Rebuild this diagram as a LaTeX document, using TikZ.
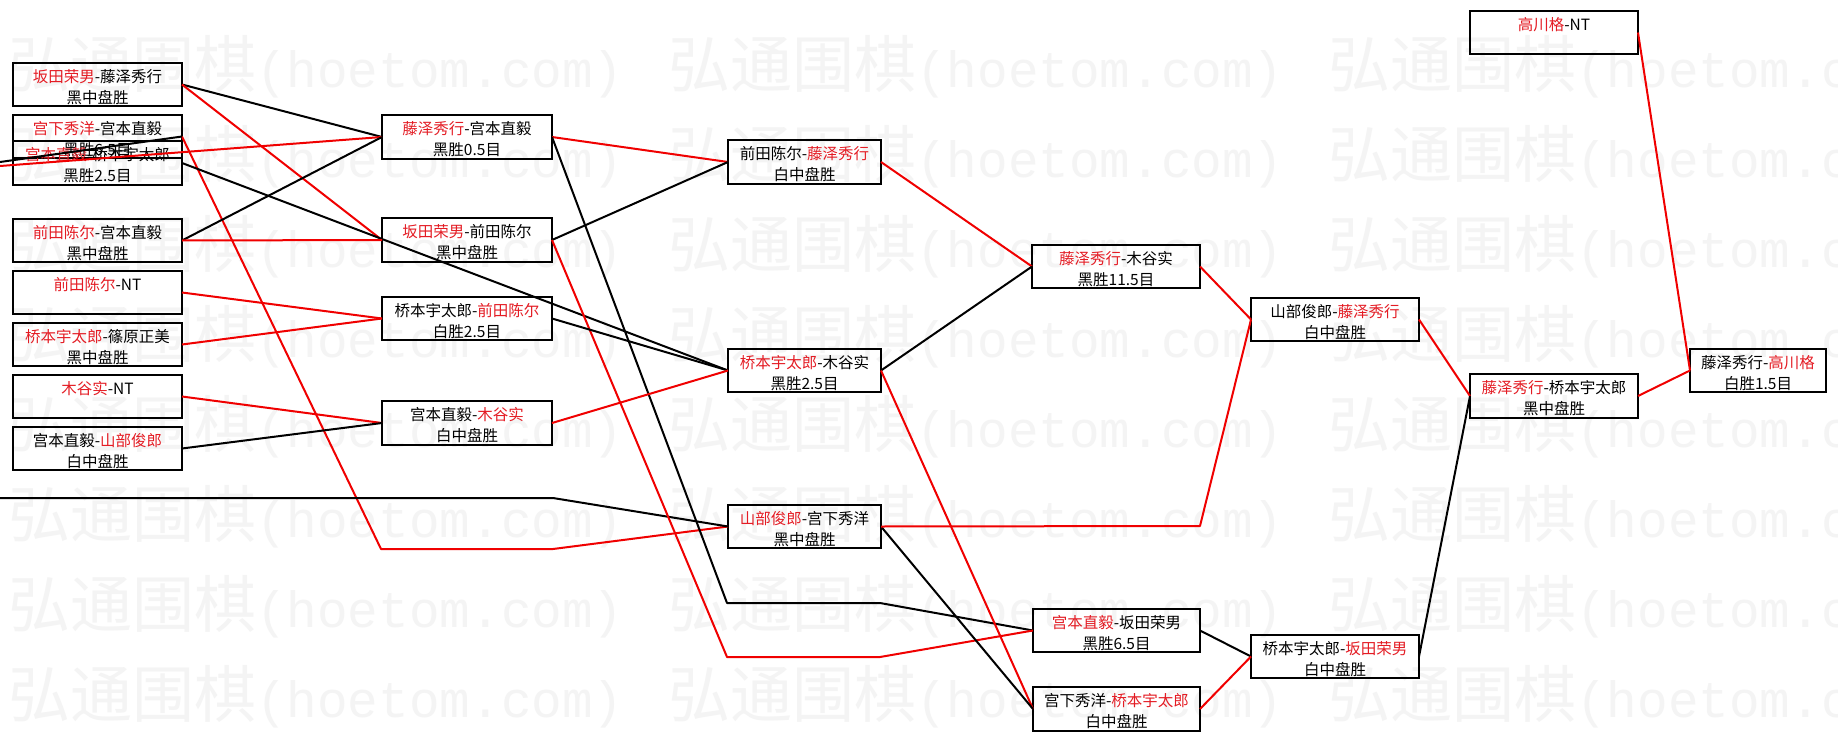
\documentclass[tikz,border=0pt]{standalone}
\usepackage{fontspec}
\setmainfont{Noto Sans CJK SC}
\newfontfamily\wmlatin{Liberation Mono}
\definecolor{wr}{RGB}{228,28,36}
\definecolor{wm}{RGB}{244,244,244}
\definecolor{ln}{RGB}{240,0,0}
\tikzset{
  box/.style={draw=black, line width=2.9pt, rectangle, inner sep=0pt, outer sep=0pt},
  txt/.style={inner sep=0pt, font=\fontsize{15.5}{18}\selectfont, text=black},
  redl/.style={draw=ln, line width=2pt, line join=round},
  blkl/.style={draw=black, line width=2pt, line join=round},
  wmark/.style={anchor=west, inner sep=0pt, text=wm},
}
\newcommand\R[1]{\textcolor{wr}{#1}}
\newcommand\game[7]{%
  \node[box, minimum width={#4-#2-2}, minimum height={#5-#3-2}] (#1) at ({(#2+#4)/2},{(#3+#5)/2}) {};
  \node[txt] (#1a) at ({(#2+#4)/2},{#3+15}) {#6};
  \node[txt] (#1b) at ({(#2+#4)/2},{#3+35.5}) {#7};
}
\begin{document}
\begin{tikzpicture}[x=1pt,y=-1pt]
\useasboundingbox (0,0) rectangle (1838,741);
\fill[white] (0,0) rectangle (1838,741);
% watermark
\foreach \r in {0,...,7} {
  \foreach \c in {0,1,2} {
    \node[wmark] (w\r\c) at ({8+660*\c},{67+90*\r}) {\fontsize{62}{62}\selectfont 弘通围棋{\wmlatin\fontsize{51}{51}\selectfont (hoetom.com)}};
  }
}
% boxes
\game{B1}{12}{62}{183}{107}{\R{坂田荣男}-藤泽秀行}{黑中盘胜}
\game{B2}{12}{114}{183}{159}{\R{宫下秀洋}-宫本直毅}{黑胜6.5目}
\game{B3}{12}{140}{183}{186}{\R{宫本直毅}-桥本宇太郎}{黑胜2.5目}
\game{B4}{12}{218}{183}{263}{\R{前田陈尔}-宫本直毅}{黑中盘胜}
\game{B5}{12}{270}{183}{315}{\R{前田陈尔}-NT}{}
\game{B6}{12}{322}{183}{367}{\R{桥本宇太郎}-篠原正美}{黑中盘胜}
\game{B7}{12}{374}{183}{419}{\R{木谷实}-NT}{}
\game{B8}{12}{426}{183}{471}{宫本直毅-\R{山部俊郎}}{白中盘胜}
\game{C1}{381}{114}{553}{160}{\R{藤泽秀行}-宫本直毅}{黑胜0.5目}
\game{C2}{381}{217}{553}{263}{\R{坂田荣男}-前田陈尔}{黑中盘胜}
\game{C3}{381}{296}{553}{341}{桥本宇太郎-\R{前田陈尔}}{白胜2.5目}
\game{C4}{381}{400}{553}{446}{宫本直毅-\R{木谷实}}{白中盘胜}
\game{D1}{727}{139}{882}{185}{前田陈尔-\R{藤泽秀行}}{白中盘胜}
\game{D2}{727}{348}{882}{393}{\R{桥本宇太郎}-木谷实}{黑胜2.5目}
\game{D3}{727}{504}{882}{549}{\R{山部俊郎}-宫下秀洋}{黑中盘胜}
\game{E1}{1031}{244}{1201}{289}{\R{藤泽秀行}-木谷实}{黑胜11.5目}
\game{E2}{1032}{608}{1201}{653}{\R{宫本直毅}-坂田荣男}{黑胜6.5目}
\game{E3}{1032}{686}{1201}{732}{宫下秀洋-\R{桥本宇太郎}}{白中盘胜}
\game{F1}{1250}{297}{1420}{342}{山部俊郎-\R{藤泽秀行}}{白中盘胜}
\game{F2}{1250}{634}{1420}{679}{桥本宇太郎-\R{坂田荣男}}{白中盘胜}
\game{G0}{1469}{10}{1639}{55}{\R{高川格}-NT}{}
\game{G1}{1469}{373}{1639}{419}{\R{藤泽秀行}-桥本宇太郎}{黑中盘胜}
\game{H1}{1689}{348}{1827}{393}{藤泽秀行-\R{高川格}}{白胜1.5目}
% free ends and bends
\coordinate (L1) at (0,162);
\coordinate (L2) at (0,166);
\coordinate (L3) at (0,498);
\coordinate (P1) at (381,549);
\coordinate (P2) at (553,549);
\coordinate (P3) at (553,498);
\coordinate (Q1) at (727,603);
\coordinate (Q2) at (880,603);
\coordinate (Q3) at (727,657);
\coordinate (Q4) at (880,657);
\coordinate (S1) at (1200,526);
% connectors
\draw[blkl] (B1.east) -- (C1.west);
\draw[redl] (B1.east) -- (C2.west);
\draw[redl] (B2.east) -- (P1) -- (P2) -- (D3.west);
\draw[blkl] (L1) -- (B2.east);
\draw[redl] (L2) -- (C1.west);
\draw[blkl] (L3) -- (P3) -- (D3.west);
\draw[blkl] (B3.east) -- (D2.west);
\draw[blkl] (B4.east) -- (C1.west);
\draw[redl] (B4.east) -- (C2.west);
\draw[redl] (B5.east) -- (C3.west);
\draw[redl] (B6.east) -- (C3.west);
\draw[redl] (B7.east) -- (C4.west);
\draw[blkl] (B8.east) -- (C4.west);
\draw[redl] (C1.east) -- (D1.west);
\draw[blkl] (C1.east) -- (Q1) -- (Q2) -- (E2.west);
\draw[blkl] (C2.east) -- (D1.west);
\draw[redl] (C2.east) -- (Q3) -- (Q4) -- (E2.west);
\draw[blkl] (C3.east) -- (D2.west);
\draw[redl] (C4.east) -- (D2.west);
\draw[redl] (D1.east) -- (E1.west);
\draw[blkl] (D2.east) -- (E1.west);
\draw[redl] (D2.east) -- (E3.west);
\draw[blkl] (D3.east) -- (E3.west);
\draw[redl] (D3.east) -- (S1) -- (F1.west);
\draw[redl] (E1.east) -- (F1.west);
\draw[blkl] (E2.east) -- (F2.west);
\draw[redl] (E3.east) -- (F2.west);
\draw[redl] (F1.east) -- (G1.west);
\draw[blkl] (F2.east) -- (G1.west);
\draw[redl] (G1.east) -- (H1.west);
\draw[redl] (G0.east) -- (H1.west);
\end{tikzpicture}
\end{document}
